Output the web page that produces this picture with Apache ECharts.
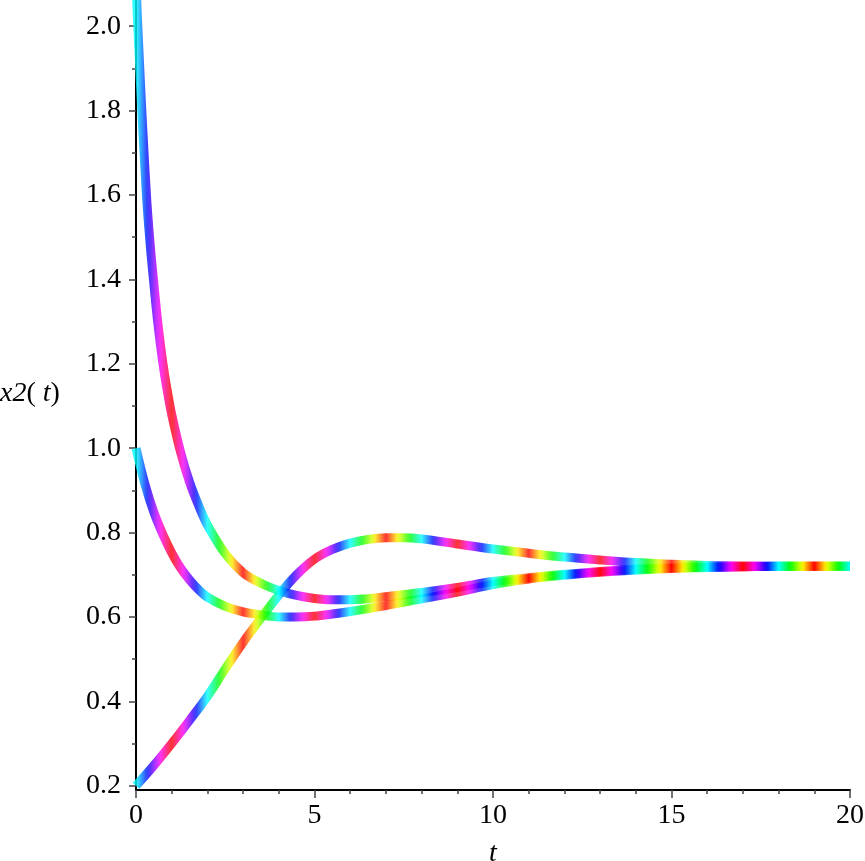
<!DOCTYPE html>
<html>
<head>
<meta charset="utf-8">
<script src="https://cdn.jsdelivr.net/npm/echarts@6/dist/echarts.min.js"></script>
<style>
html,body{margin:0;padding:0;background:#fff;}
#chart{width:865px;height:861px;}
</style>
</head>
<body>
<div id="chart"></div>
<script>
// ---- data ----
const tA = [0,0.05,0.1,0.15,0.2,0.3,0.4,0.5,0.6,0.7,0.8,0.9,1,1.25,1.5,1.75,2,2.5,3,3.5,4,4.5,5,5.5,6,6.5,7,8,9,10,11,12,13,14,15,16,17,18,19,20];
const xA = [2.10,2.0,1.91,1.82,1.74,1.59,1.48,1.39,1.305,1.235,1.175,1.125,1.08,0.99,0.92,0.865,0.818,0.75,0.705,0.68,0.663,0.651,0.644,0.641,0.641,0.643,0.648,0.658,0.670,0.684,0.693,0.701,0.708,0.713,0.716,0.718,0.719,0.72,0.72,0.72];

const tB = [0,0.25,0.5,0.75,1,1.25,1.5,1.75,2,2.5,3,3.5,4,4.5,5,5.5,6,7,8,9,10,11,12,13,14,15,16,17,18,19,20];
const xB = [1.0,0.915,0.848,0.796,0.752,0.716,0.688,0.665,0.647,0.625,0.612,0.605,0.600,0.600,0.602,0.607,0.613,0.627,0.643,0.659,0.677,0.690,0.699,0.706,0.711,0.715,0.717,0.719,0.72,0.72,0.72];

const tC = [0,0.5,1,1.5,2,2.5,3,3.5,4,4.5,5,5.5,6,6.5,7,7.5,8,9,10,11,12,13,14,15,16,17,18,19,20];
const xC = [0.2,0.248,0.3,0.355,0.412,0.477,0.540,0.597,0.652,0.700,0.737,0.760,0.775,0.784,0.788,0.788,0.785,0.773,0.761,0.751,0.742,0.735,0.729,0.725,0.722,0.721,0.72,0.72,0.72];

const yMajorTicks = [0.2,0.4,0.6,0.8,1.0,1.2,1.4,1.6,1.8,2.0];
const yMinorTicks = [0.3,0.5,0.7,0.9,1.1,1.3,1.5,1.7,1.9];

// ---- rainbow colouring along t (style only) ----
function hueAt(t){
  const u = ((t + 1) % 4 + 4) % 4;
  return u < 2 ? 180 * u : 180 * (4 - u);
}
function hsvToHex(h){
  h = ((h % 360) + 360) % 360;
  const c = 1, x = c * (1 - Math.abs((h / 60) % 2 - 1));
  let r, g, b;
  if (h < 60) [r,g,b] = [c,x,0];
  else if (h < 120) [r,g,b] = [x,c,0];
  else if (h < 180) [r,g,b] = [0,c,x];
  else if (h < 240) [r,g,b] = [0,x,c];
  else if (h < 300) [r,g,b] = [x,0,c];
  else [r,g,b] = [c,0,x];
  const hx = v => Math.round(v * 255).toString(16).padStart(2,'0');
  return '#' + hx(r) + hx(g) + hx(b);
}
const rainbow = [];
for (let k = 0; k <= 60; k++) rainbow.push(hsvToHex(hueAt(k / 3)));

const FONT = "'Liberation Serif', 'DejaVu Serif', serif";
const FS = 28;
const pair = (ts, xs) => ts.map((t, i) => [t, xs[i]]);

function lineSeries(ts, xs){
  return {
    type: 'line',
    data: pair(ts, xs),
    showSymbol: false,
    smooth: 0.35,
    clip: true,
    lineStyle: { width: 9, opacity: 0.8, cap: 'butt', join: 'round' }
  };
}

const chart = echarts.init(document.getElementById('chart'), null, {renderer: 'canvas'});
chart.setOption({
  animation: false,
  backgroundColor: '#ffffff',
  grid: { left: 136, right: 15, top: 0, bottom: 71, containLabel: false, outerBoundsMode: 'none' },
  xAxis: {
    type: 'value', min: 0, max: 20, interval: 5,
    name: 't', nameLocation: 'middle', nameGap: 50,
    nameTextStyle: { fontFamily: FONT, fontStyle: 'italic', fontSize: FS, color: '#000' },
    axisLine: { onZero: false, lineStyle: { color: '#000', width: 2 } },
    axisTick: { length: 8, lineStyle: { color: '#444', width: 1.5 } },
    minorTick: { show: true, splitNumber: 5, length: 4, lineStyle: { color: '#444', width: 1.5 } },
    splitLine: { show: false },
    minorSplitLine: { show: false },
    axisLabel: { fontFamily: FONT, fontSize: FS, color: '#000', margin: 12 }
  },
  yAxis: [{
    type: 'value', min: 0.19, max: 2.062,
    axisLine: { onZero: false, lineStyle: { color: '#000', width: 2 } },
    axisTick: { customValues: yMajorTicks, length: 7, lineStyle: { color: '#444', width: 1.5 } },
    splitLine: { show: false },
    axisLabel: { customValues: yMajorTicks, fontFamily: FONT, fontSize: FS, color: '#000', margin: 15,
                 formatter: v => v.toFixed(1) }
  }, {
    type: 'value', min: 0.19, max: 2.062, position: 'left',
    axisLine: { show: false },
    axisTick: { show: true, customValues: yMinorTicks, length: 4, lineStyle: { color: '#444', width: 1.5 } },
    splitLine: { show: false },
    axisLabel: { show: false }
  }],
  visualMap: {
    type: 'continuous', show: false, dimension: 0, min: 0, max: 20,
    seriesIndex: [0, 1, 2],
    inRange: { color: rainbow }
  },
  graphic: [{
    type: 'text', left: 0, top: 380,
    style: {
      text: '{i|x2}( {i|t})',
      font: FS + "px 'Liberation Serif'",
      fill: '#000',
      rich: { i: { fontFamily: FONT, fontStyle: 'italic', fontSize: FS, fill: '#000' } }
    }
  }],
  series: [lineSeries(tC, xC), lineSeries(tB, xB), lineSeries(tA, xA)]
});
</script>
</body>
</html>
